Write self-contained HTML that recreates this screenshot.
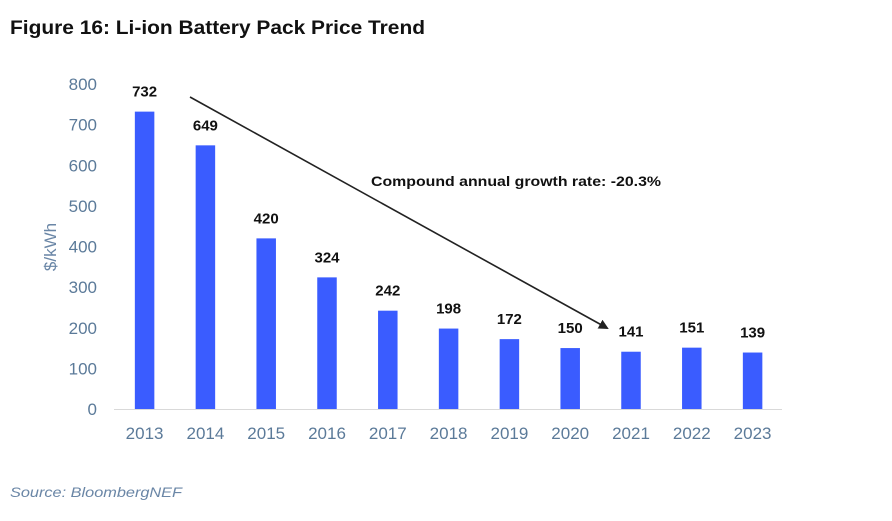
<!DOCTYPE html>
<html><head><meta charset="utf-8"><style>
body{margin:0;background:#fff;width:892px;height:516px;overflow:hidden;font-family:"Liberation Sans",sans-serif}
</style></head><body>
<svg width="892" height="516">
<text x="10" y="34" font-size="19" font-weight="bold" fill="#111" textLength="415" lengthAdjust="spacingAndGlyphs">Figure 16: Li-ion Battery Pack Price Trend</text>
<text transform="translate(56,247) rotate(-90)" text-anchor="middle" font-size="17" fill="#6a86a6">$/kWh</text>
<g id="yt"></g><g id="bars"></g>
<line x1="114" y1="409.5" x2="782" y2="409.5" stroke="#d9d9d9"/>
<defs><marker id="ah" markerWidth="10" markerHeight="10" refX="8" refY="5" orient="auto" markerUnits="userSpaceOnUse"><path d="M0,0 L10,5 L0,10 z" fill="#222"/></marker></defs>
<line x1="190" y1="97" x2="607" y2="328" stroke="#222" stroke-width="1.6" marker-end="url(#ah)"/>
<text x="371" y="186" font-size="14" font-weight="bold" fill="#111" textLength="290" lengthAdjust="spacingAndGlyphs">Compound annual growth rate: -20.3%</text>
<text x="10" y="497" font-size="14" font-style="italic" fill="#6a86a6" textLength="172" lengthAdjust="spacingAndGlyphs">Source: BloombergNEF</text>
</svg>
<script>
const categories=["2013","2014","2015","2016","2017","2018","2019","2020","2021","2022","2023"];
const values=[732,649,420,324,242,198,172,150,141,151,139];
const yTicks=[0,100,200,300,400,500,600,700,800];
const NS="http://www.w3.org/2000/svg";
const y=v=>409-v*0.40625;
const x=i=>144.6+i*60.8;
const yt=document.getElementById('yt'),bars=document.getElementById('bars');
yTicks.forEach(t=>{const e=document.createElementNS(NS,'text');
e.setAttribute('x',97);e.setAttribute('y',y(t)+6);e.setAttribute('text-anchor','end');
e.setAttribute('font-size','17');e.setAttribute('fill','#5b7a99');e.textContent=t;


yt.appendChild(e);});
categories.forEach((c,i)=>{const v=values[i];
const r=document.createElementNS(NS,'rect');
r.setAttribute('x',x(i)-9.75);r.setAttribute('width',19.5);r.setAttribute('y',y(v));r.setAttribute('height',y(0)-y(v));r.setAttribute('fill','#3a5cff');


bars.appendChild(r);
const l=document.createElementNS(NS,'text');
l.setAttribute('x',x(i));l.setAttribute('y',y(v)-15);l.setAttribute('text-anchor','middle');l.setAttribute('font-size','15');l.setAttribute('font-weight','bold');l.setAttribute('fill','#111');l.textContent=v;


bars.appendChild(l);
const t=document.createElementNS(NS,'text');
t.setAttribute('x',x(i));t.setAttribute('y',439);t.setAttribute('text-anchor','middle');t.setAttribute('font-size','17');t.setAttribute('fill','#5b7a99');t.textContent=c;


bars.appendChild(t);});
</script>
</body></html>
